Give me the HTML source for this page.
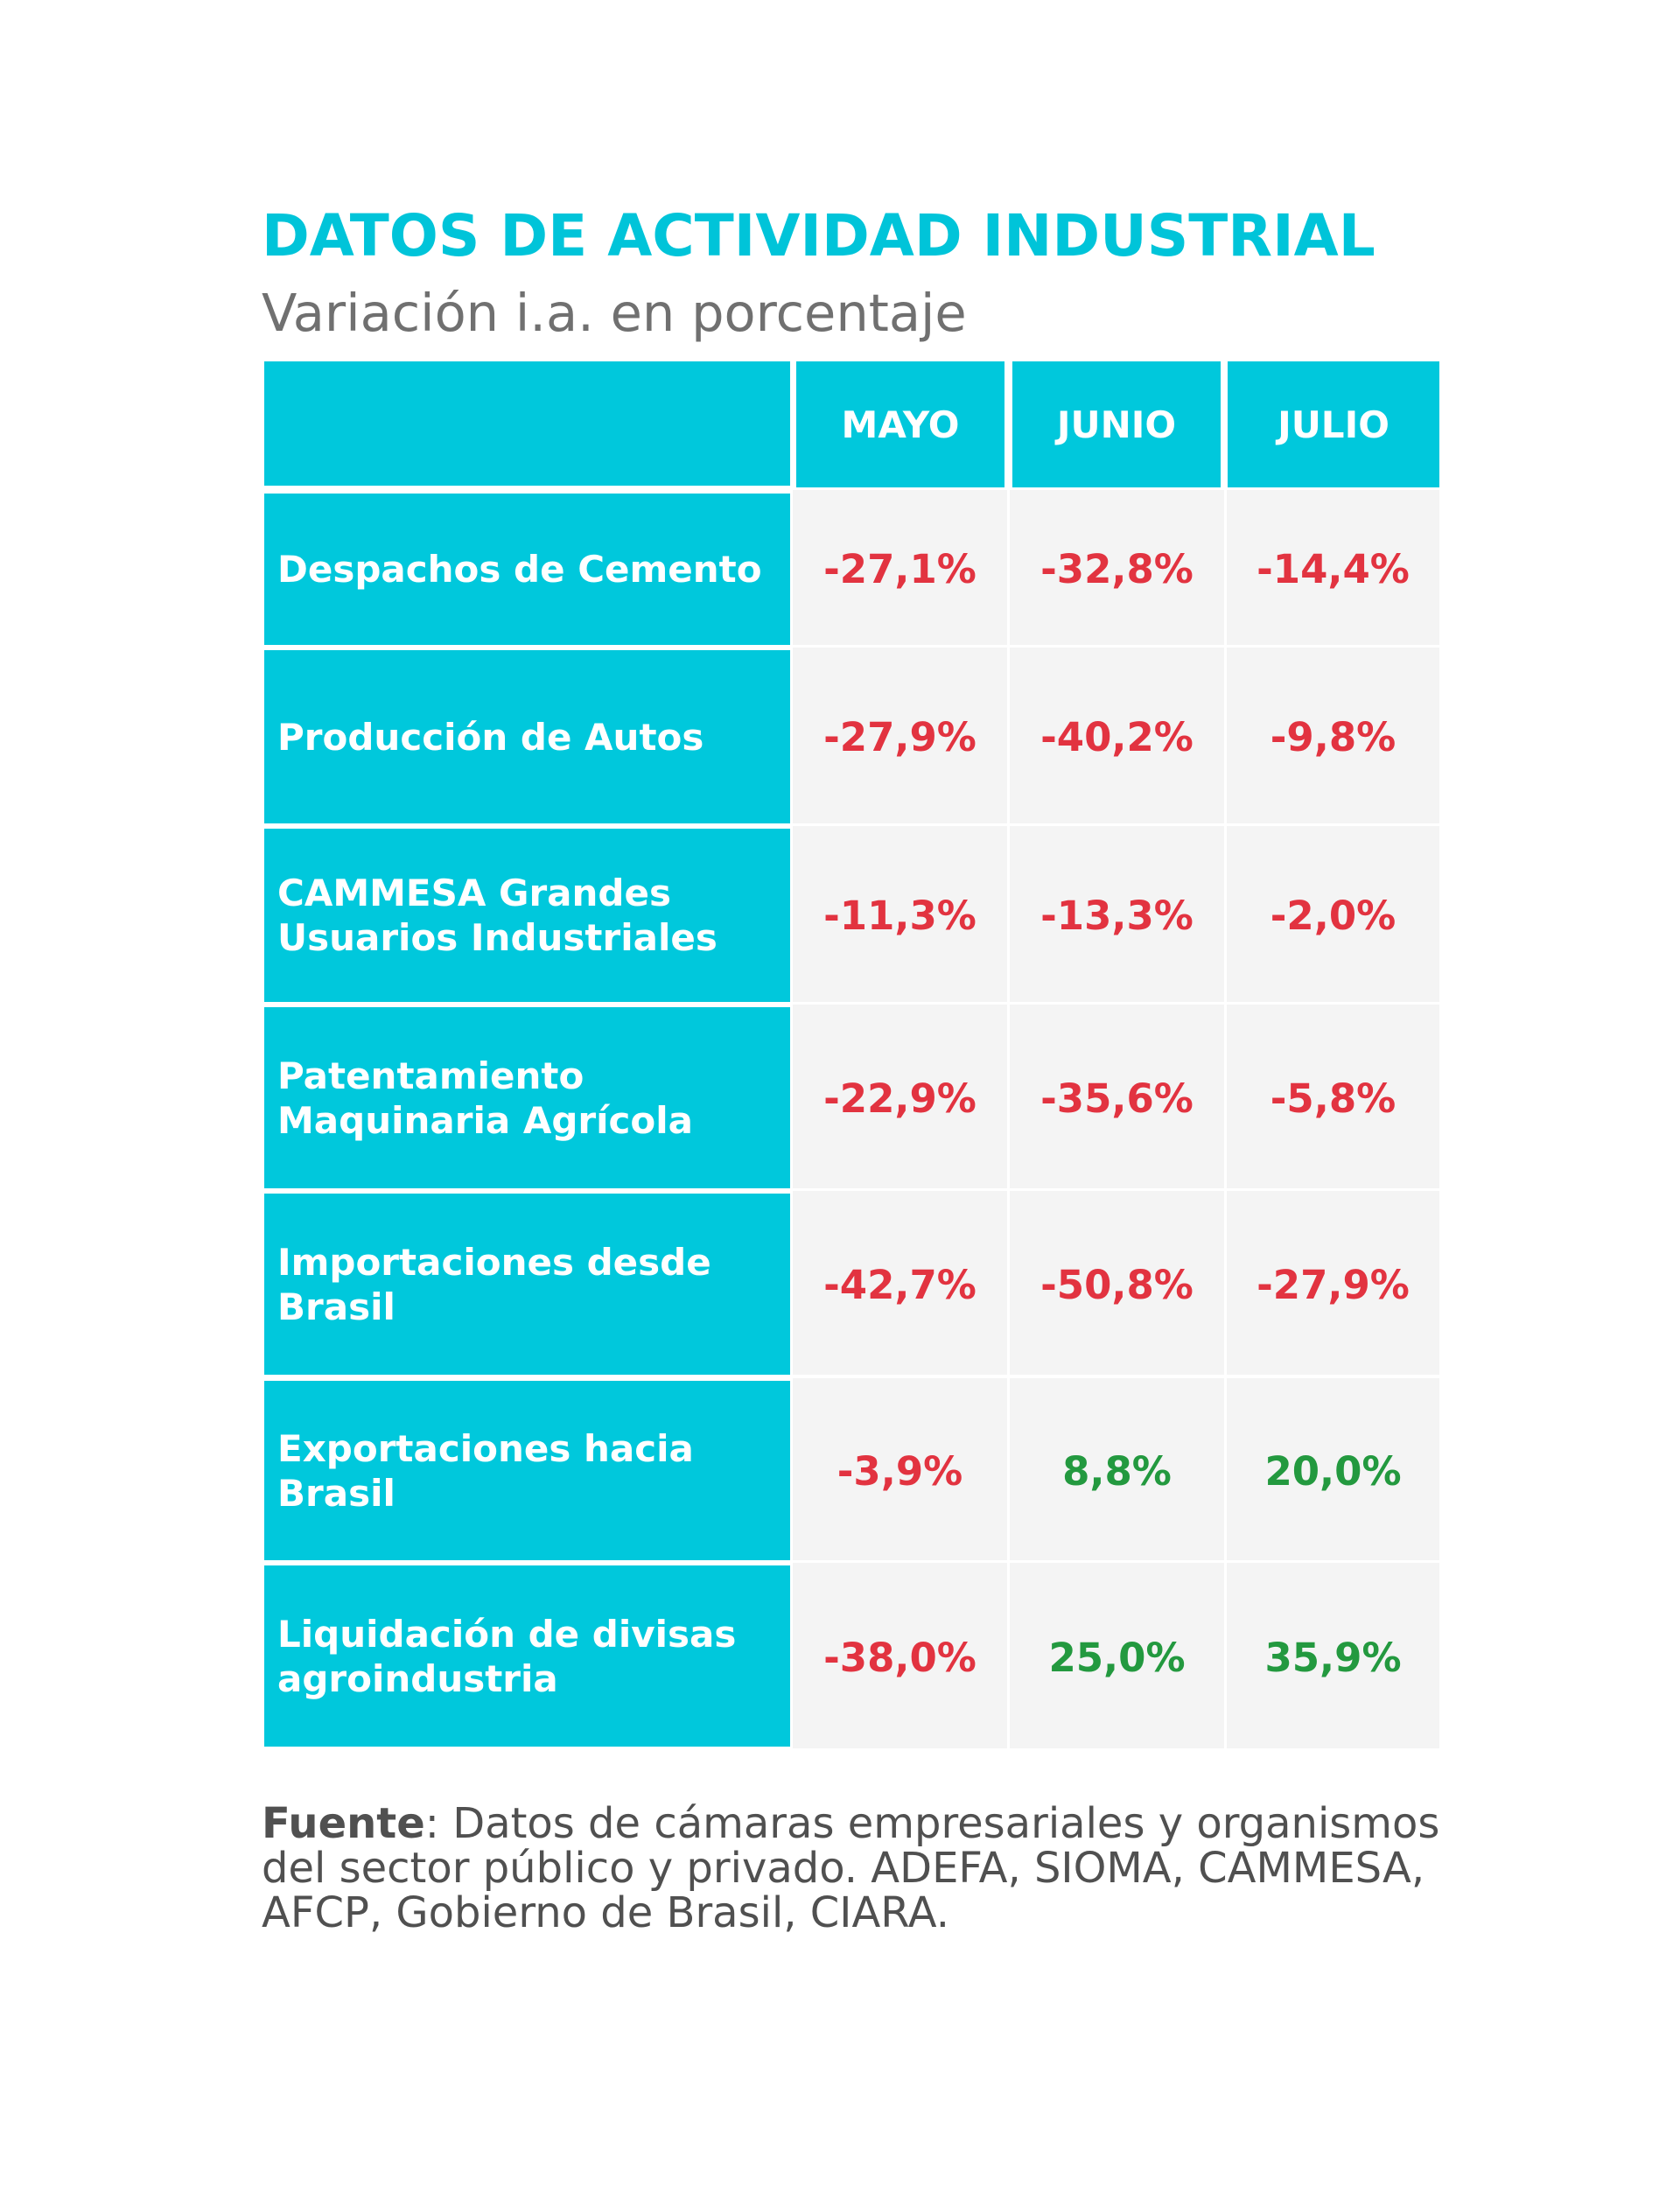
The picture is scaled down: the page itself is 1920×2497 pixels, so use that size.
<!DOCTYPE html>
<html><head><meta charset="utf-8"><style>
body{margin:0;width:1920px;height:2497px;background:#fff;position:relative;font-family:"DejaVu Sans","Liberation Sans",sans-serif;overflow:hidden}
.a{position:absolute}
.t{left:299px;top:230px;font-size:66px;font-weight:bold;color:#00c4d9;white-space:nowrap;line-height:80px}
.s{left:299px;top:323px;font-size:59px;color:#707070;white-space:nowrap;line-height:70px}
.c{position:absolute;background:#00c8dc;color:#fff;font-weight:bold;display:flex;align-items:center}
.l{font-size:42px;line-height:51px;padding-left:15px;box-sizing:border-box}
.h{font-size:42px;justify-content:center}
.d{position:absolute;background:#f4f4f4;display:flex;align-items:center;justify-content:center;font-size:45px;font-weight:bold;padding-top:4px;box-sizing:border-box}
.r{color:#e23340}.g{color:#23993f}
.f{left:299px;top:2059px;font-size:48px;line-height:51px;color:#505050;white-space:nowrap}
</style></head><body>
<div class="a t">DATOS DE ACTIVIDAD INDUSTRIAL</div>
<div class="a s">Variación i.a. en porcentaje</div>

<div class="c" style="left:302px;top:413px;width:601px;height:142px"></div>
<div class="c h" style="left:910px;top:413px;width:238px;height:144px">MAYO</div>
<div class="c h" style="left:1157px;top:413px;width:238px;height:144px">JUNIO</div>
<div class="c h" style="left:1403px;top:413px;width:242px;height:144px">JULIO</div>

<div class="c l" style="left:302px;top:564px;width:601px;height:173px">Despachos de Cemento</div>
<div class="d r" style="left:906px;top:560px;width:245px;height:177px">-27,1%</div>
<div class="d r" style="left:1154px;top:560px;width:245px;height:177px">-32,8%</div>
<div class="d r" style="left:1402px;top:560px;width:243px;height:177px">-14,4%</div>

<div class="c l" style="left:302px;top:743px;width:601px;height:198px">Producción de Autos</div>
<div class="d r" style="left:906px;top:740px;width:245px;height:201px">-27,9%</div>
<div class="d r" style="left:1154px;top:740px;width:245px;height:201px">-40,2%</div>
<div class="d r" style="left:1402px;top:740px;width:243px;height:201px">-9,8%</div>

<div class="c l" style="left:302px;top:947px;width:601px;height:198px">CAMMESA Grandes<br>Usuarios Industriales</div>
<div class="d r" style="left:906px;top:944px;width:245px;height:201px">-11,3%</div>
<div class="d r" style="left:1154px;top:944px;width:245px;height:201px">-13,3%</div>
<div class="d r" style="left:1402px;top:944px;width:243px;height:201px">-2,0%</div>

<div class="c l" style="left:302px;top:1151px;width:601px;height:207px">Patentamiento<br>Maquinaria Agrícola</div>
<div class="d r" style="left:906px;top:1148px;width:245px;height:210px">-22,9%</div>
<div class="d r" style="left:1154px;top:1148px;width:245px;height:210px">-35,6%</div>
<div class="d r" style="left:1402px;top:1148px;width:243px;height:210px">-5,8%</div>

<div class="c l" style="left:302px;top:1364px;width:601px;height:207px">Importaciones desde<br>Brasil</div>
<div class="d r" style="left:906px;top:1361px;width:245px;height:210px">-42,7%</div>
<div class="d r" style="left:1154px;top:1361px;width:245px;height:210px">-50,8%</div>
<div class="d r" style="left:1402px;top:1361px;width:243px;height:210px">-27,9%</div>

<div class="c l" style="left:302px;top:1578px;width:601px;height:205px">Exportaciones hacia<br>Brasil</div>
<div class="d r" style="left:906px;top:1575px;width:245px;height:208px">-3,9%</div>
<div class="d g" style="left:1154px;top:1575px;width:245px;height:208px">8,8%</div>
<div class="d g" style="left:1402px;top:1575px;width:243px;height:208px">20,0%</div>

<div class="c l" style="left:302px;top:1789px;width:601px;height:207px">Liquidación de divisas<br>agroindustria</div>
<div class="d r" style="left:906px;top:1786px;width:245px;height:212px">-38,0%</div>
<div class="d g" style="left:1154px;top:1786px;width:245px;height:212px">25,0%</div>
<div class="d g" style="left:1402px;top:1786px;width:243px;height:212px">35,9%</div>

<div class="a f"><b>Fuente</b>: Datos de cámaras empresariales y organismos<br>del sector público y privado. ADEFA, SIOMA, CAMMESA,<br>AFCP, Gobierno de Brasil, CIARA.</div>
</body></html>
